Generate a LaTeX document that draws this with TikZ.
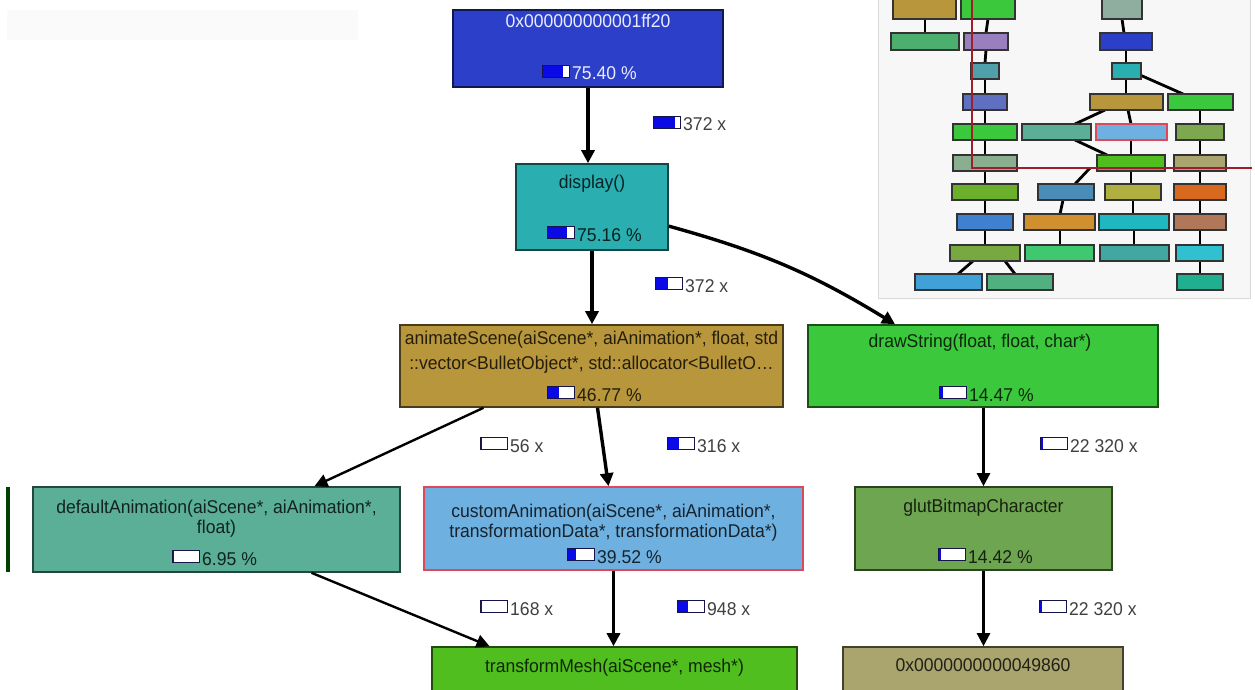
\documentclass[tikz,border=0pt]{standalone}
\usepackage{fontspec}
\setmainfont{Liberation Sans}[FakeStretch=0.95]
\usetikzlibrary{arrows.meta}

\definecolor{rootBlue}{HTML}{2B3FC8}
\definecolor{dispTeal}{HTML}{2AAEB0}
\definecolor{animGold}{HTML}{B8963C}
\definecolor{drawGreen}{HTML}{3CC83C}
\definecolor{defTeal}{HTML}{5AAF96}
\definecolor{custBlue}{HTML}{6EB0E0}
\definecolor{glutGreen}{HTML}{6EA550}
\definecolor{meshGreen}{HTML}{50BE1E}
\definecolor{addrKhaki}{HTML}{AAA56E}
\definecolor{meterBlue}{HTML}{0A0AE6}
\definecolor{meterFrame}{HTML}{15154A}
\definecolor{viewRed}{HTML}{A01E28}
\definecolor{selRed}{HTML}{E0485A}

\begin{document}
\begin{tikzpicture}[x=1pt, y=-1pt,
  every node/.style={font=\fontsize{18.5}{20}\selectfont},
  box/.style={draw=#1!40!black, fill=#1, line width=1.6pt, inner sep=0pt},
  fname/.style={anchor=base, inner sep=0pt, text=#1!20!black},
  pct/.style={anchor=base west, inner sep=0pt, text=#1!20!black},
  cnt/.style={anchor=base west, inner sep=0pt, text=black!75},
  call/.style={line width=3.4pt, -{Triangle[length=13pt,width=13pt]}},
  thin call/.style={call, line width=2.4pt},
  mini/.style={draw=black!80, line width=1.4pt},
  minilink/.style={line width=2.8pt}]
\newcommand{\meter}[2]{%
  \fill[white] ([xshift=-29.5pt,yshift=2.5pt]#1.base west) rectangle ([xshift=-2.5pt,yshift=14.5pt]#1.base west);
  \fill[meterBlue] ([xshift=-29.5pt,yshift=2.5pt]#1.base west) rectangle ([xshift={-29.5pt+27pt*#2},yshift=14.5pt]#1.base west);
  \draw[meterFrame, line width=1.3pt] ([xshift=-29.5pt,yshift=2.5pt]#1.base west) rectangle ([xshift=-2.5pt,yshift=14.5pt]#1.base west);
}
\useasboundingbox (0,0) rectangle (1255,690);
\clip (0,0) rectangle (1255,690);
\fill[black!2] (7,10) rectangle (358,40);

% overview panel
\filldraw[fill=red!3!black!3, draw=black!15, line width=1pt] (878,-5) rectangle (1250,298);
\foreach \xa/\ya/\xb/\yb in {925/19/925/33, 988/19/986/33, 986/50/985/63, 985/79/985/94, 985/110/985/124,
    985/140/985/155, 985/171/985/184, 985/200/985/214, 985/230/985/245, 973/261/958/274, 1005/261/1015/274,
    1122/19/1124/33, 1126/50/1126/63, 1126/79/1126/94, 1140/75/1183/94, 1105/110/1075/124, 1128/110/1131/124,
    1075/140/1107/155, 1131/140/1131/155, 1200/110/1200/124, 1200/140/1200/155, 1200/171/1200/184,
    1200/200/1200/214, 1200/230/1200/245, 1200/261/1200/274, 1090/168/1075/184, 1131/171/1131/184,
    1063/200/1060/214, 1060/230/1060/245, 1133/200/1133/214, 1134/230/1134/245}
  \draw[minilink] (\xa,\ya) -- (\xb,\yb);
\foreach \xa/\ya/\xb/\yb/\hue in {893/-5/956/19/B8963C, 961/-5/1015/19/3CC83C, 1102/-5/1142/19/8FAEA0,
    891/33/959/50/4CAF6E, 964/33/1008/50/9A7FBF, 1100/33/1152/50/2B3FC8,
    971/63/999/79/4FA0AA, 1112/63/1141/79/2AAEB0,
    963/94/1007/110/6070C0, 1090/94/1163/110/B8963C, 1168/94/1233/110/3CC83C,
    953/124/1017/140/3CC83C, 1022/124/1091/140/5AAF96, 1096/124/1167/140/6EB0E0, 1176/124/1224/140/7EA850,
    953/155/1017/171/8AAF90, 1097/155/1165/171/50BE1E, 1174/155/1226/171/AAA56E,
    952/184/1018/200/6AB02A, 1038/184/1094/200/4A8CB8, 1105/184/1161/200/B0B040, 1174/184/1226/200/D86A20,
    957/214/1013/230/4080D0, 1024/214/1095/230/D09030, 1099/214/1169/230/20B8C0, 1174/214/1226/230/B07858,
    950/245/1020/261/78A840, 1025/245/1094/261/40C870, 1100/245/1169/261/40A8A0, 1176/245/1223/261/30C0D0,
    915/274/982/290/40A0D8, 987/274/1053/290/50B080, 1177/274/1223/290/20B090}
{
  \definecolor{miniHue}{HTML}{\hue}
  \draw[mini, fill=miniHue] (\xa,\ya) rectangle (\xb,\yb);
}
\draw[selRed, line width=1.3pt] (1096,124) rectangle (1167,140);
\draw[viewRed, line width=2pt] (972,-5) -- (972,168) -- (1252,168);

% call graph
\draw[draw=green!25!black, line width=3.5pt] (8,487) -- (8,572);
\node[box=rootBlue, minimum width=270pt, minimum height=77pt] (root) at (588,48.5) {};
\node[box=dispTeal, minimum width=152pt, minimum height=86pt] (disp) at (592,207) {};
\node[box=animGold, minimum width=383pt, minimum height=82pt] (anim) at (591.5,366) {};
\node[box=drawGreen, minimum width=350pt, minimum height=82pt] (draw) at (983,366) {};
\node[box=defTeal, minimum width=367pt, minimum height=85pt] (defA) at (216.5,529.5) {};
\node[box=custBlue, draw=selRed, minimum width=379pt, minimum height=83pt] (custA) at (613.5,528.5) {};
\node[box=glutGreen, minimum width=257pt, minimum height=83pt] (glut) at (983.5,528.5) {};
\node[box=meshGreen, minimum width=365pt, minimum height=53pt] (tMesh) at (614.5,673.5) {};
\node[box=addrKhaki, minimum width=280pt, minimum height=53pt] (addr) at (983,673.5) {};

\node[fname=white, text=blue!8!white] (rootName) at (588,28) {0x000000000001ff20};
\node[pct=white, text=blue!8!white] (rootPct) at (572,80) {75.40 \%};
\node[fname=dispTeal] (dispName) at (592,188) {display()};
\node[pct=dispTeal] (dispPct) at (577,241) {75.16 \%};
\node[fname=animGold] (animName) at (591.5,344) {animateScene(aiScene*, aiAnimation*, float, std};
\node[fname=animGold] (animName2) at (591.5,369) {::vector<BulletObject*, std::allocator<BulletO…};
\node[pct=animGold] (animPct) at (577,401) {46.77 \%};
\node[fname=drawGreen] (drawName) at (980,347) {drawString(float, float, char*)};
\node[pct=drawGreen] (drawPct) at (969,401) {14.47 \%};
\node[fname=defTeal] (defName) at (216.5,513) {defaultAnimation(aiScene*, aiAnimation*,};
\node[fname=defTeal] (defName2) at (216.5,533) {float)};
\node[pct=defTeal] (defPct) at (202,565) {6.95 \%};
\node[fname=custBlue] (custName) at (613.5,517) {customAnimation(aiScene*, aiAnimation*,};
\node[fname=custBlue] (custName2) at (613.5,537) {transformationData*, transformationData*)};
\node[pct=custBlue] (custPct) at (597,563) {39.52 \%};
\node[fname=glutGreen] (glutName) at (983.5,512) {glutBitmapCharacter};
\node[pct=glutGreen] (glutPct) at (968,563) {14.42 \%};
\node[fname=meshGreen] (meshName) at (614.5,672) {transformMesh(aiScene*, mesh*)};
\node[fname=addrKhaki] (addrName) at (983,671) {0x0000000000049860};

\meter{rootPct}{0.75}
\meter{dispPct}{0.73}
\meter{animPct}{0.43}
\meter{drawPct}{0.12}
\meter{defPct}{0.07}
\meter{custPct}{0.33}
\meter{glutPct}{0.1}

\draw[call] (root.south) -- (root.south |- disp.north);
\draw[call] (disp.south) -- (disp.south |- anim.north);
\draw[call] (disp.-14) to[bend left=8] ([xshift=-88pt]draw.north);
\draw[thin call] ([xshift=-108pt]anim.south) -- ([xshift=98pt]defA.north);
\draw[call] ([xshift=6pt]anim.south) -- ([xshift=-5pt]custA.north);
\draw[thin call] ([xshift=95pt]defA.south) -- ([xshift=-125pt]tMesh.north);
\draw[call] (custA.south) -- (custA.south |- tMesh.north);
\draw[thin call] (glut.north |- draw.south) -- (glut.north);
\draw[thin call] (glut.south) -- (glut.south |- addr.north);

\node[cnt] (c1) at (683,131) {372 x};
\node[cnt] (c2) at (685,292) {372 x};
\node[cnt] (c3) at (510,452) {56 x};
\node[cnt] (c4) at (697,452) {316 x};
\node[cnt] (c5) at (1070,452) {22 320 x};
\node[cnt] (c6) at (510,615) {168 x};
\node[cnt] (c7) at (707,615) {948 x};
\node[cnt] (c8) at (1069,615) {22 320 x};
\meter{c1}{0.8}
\meter{c2}{0.45}
\meter{c3}{0.05}
\meter{c4}{0.43}
\meter{c5}{0.08}
\meter{c6}{0.05}
\meter{c7}{0.4}
\meter{c8}{0.08}

\end{tikzpicture}
\end{document}
